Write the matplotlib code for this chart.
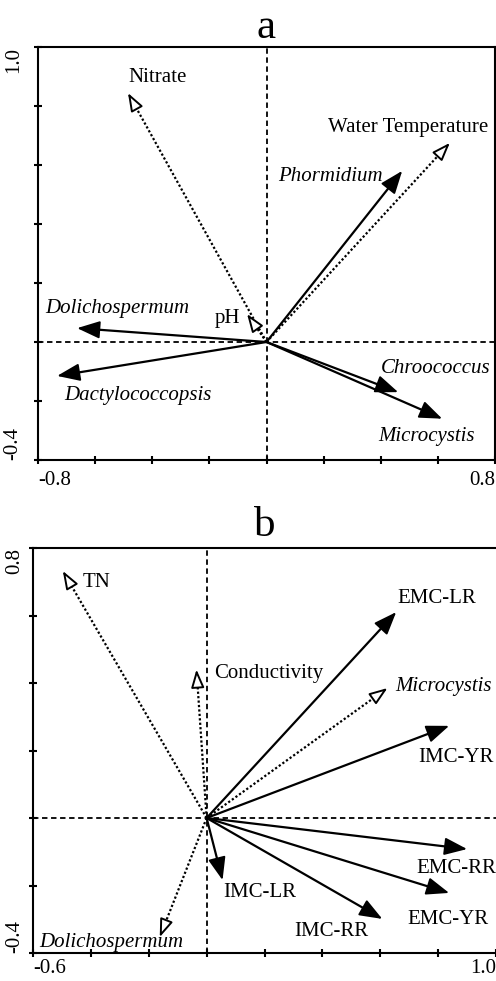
import numpy as np
import matplotlib
matplotlib.use('Agg')
import matplotlib.pyplot as plt

plt.rcParams['font.family'] = ['Liberation Serif', 'DejaVu Serif']

# Panel a: environmental vectors (dotted, hollow heads) and taxa (solid)
a_env_names = ['Nitrate', 'Water Temperature', 'pH']
a_env_x = [-0.485, 0.642, -0.068]
a_env_y = [0.844, 0.675, 0.095]
a_sp_names = ['Phormidium', 'Dolichospermum', 'Dactylococcopsis', 'Chroococcus', 'Microcystis']
a_sp_x = [0.475, -0.663, -0.733, 0.461, 0.615]
a_sp_y = [0.580, 0.047, -0.115, -0.170, -0.260]

# Panel b
b_env_names = ['TN', 'Conductivity', 'Microcystis', 'Dolichospermum']
b_env_x = [-0.497, -0.035, 0.625, -0.162]
b_env_y = [0.732, 0.440, 0.385, -0.353]
b_sp_names = ['EMC-LR', 'IMC-YR', 'IMC-LR', 'EMC-RR', 'EMC-YR', 'IMC-RR']
b_sp_x = [0.655, 0.838, 0.055, 0.900, 0.838, 0.607]
b_sp_y = [0.610, 0.273, -0.184, -0.092, -0.222, -0.299]

italic_names = {'Phormidium', 'Dolichospermum', 'Dactylococcopsis', 'Chroococcus', 'Microcystis'}

# label offsets (points) from arrow tips
a_env_off = [(21, 11), (-30, 11), (-14, -3)]
a_sp_off = [(-52, -4), (29, 14), (58, -14), (27, 17), (-11, -13)]
b_env_off = [(24, -8), (52, -3), (40, 1), (-35, -4)]
b_sp_off = [(29, 10), (5, -23), (27, -9), (-8, -14), (-1, -19), (-37, -9)]

fig = plt.figure(figsize=(4.96, 9.81), dpi=100)
ax_a = fig.add_axes([38 / 496, 521 / 981, 457 / 496, 413 / 981])
ax_b = fig.add_axes([33 / 496, 28 / 981, 463 / 496, 405 / 981])


def draw_vec(ax, x, y, hollow):
    if hollow:
        hl, hw, ls, fc = 0.55, 0.2, (0, (1, 1)), 'white'
    else:
        hl, hw, ls, fc = 0.7, 0.27, '-', 'black'
    p0 = ax.transData.transform((0, 0))
    p1 = ax.transData.transform((x, y))
    d = p1 - p0
    L = np.hypot(*d)
    hl_px = hl * 20 * fig.dpi / 72
    pb = p1 - d / L * hl_px * 0.85
    xb, yb = ax.transData.inverted().transform(pb)
    ax.plot([0, xb], [0, yb], color='black', lw=1.6, ls=ls, zorder=3,
            solid_capstyle='butt', dash_capstyle='butt')
    ax.annotate('', xy=(x, y), xytext=(xb, yb), zorder=4,
                arrowprops=dict(arrowstyle=f'-|>,head_length={hl},head_width={hw}',
                                mutation_scale=20, shrinkA=0, shrinkB=0,
                                lw=1.4, fc=fc, ec='black'))


def setup(ax, xlim, ylim, title, ypad, xpad, xticks, yticks, tpad):
    ax.set_xlim(*xlim)
    ax.set_ylim(*ylim)
    ax.axhline(0, color='black', lw=1.3, ls=(0, (3, 2)), zorder=1)
    ax.axvline(0, color='black', lw=1.3, ls=(0, (3, 2)), zorder=1)
    for s in ax.spines.values():
        s.set_linewidth(1.5)
    ax.set_xticks(xticks)
    ax.set_xticklabels([f'{xticks[0]:.1f}'] + [''] * (len(xticks) - 2) + [f'{xticks[-1]:.1f}'])
    ax.set_yticks(yticks)
    ax.set_yticklabels([f'{yticks[0]:.1f}'] + [''] * (len(yticks) - 2) + [f'{yticks[-1]:.1f}'])
    ax.tick_params(direction='inout', length=6, width=1.5, labelsize=15, colors='black')
    ax.tick_params(axis='y', pad=ypad)
    ax.tick_params(axis='x', pad=xpad)
    xl = ax.get_xticklabels()
    xl[0].set_ha('left')
    xl[-1].set_ha('right')
    yl = ax.get_yticklabels()
    for t in yl:
        t.set_rotation(90)
    yl[0].set_va('bottom')
    yl[-1].set_va('top')
    ax.set_title(title, fontsize=31, pad=tpad)


def label(ax, name, x, y, off):
    ax.annotate(name, xy=(x, y), xytext=off, textcoords='offset points',
                ha='center', va='center', fontsize=15,
                style='italic' if name in italic_names else 'normal', zorder=5)


setup(ax_a, (-0.8, 0.8), (-0.4, 1.0), 'a', 8, 5,
      [round(v, 1) for v in np.arange(-0.8, 0.81, 0.2)],
      [round(v, 1) for v in np.arange(-0.4, 1.01, 0.2)], 5)
setup(ax_b, (-0.6, 1.0), (-0.4, 0.8), 'b', 3, 1.5,
      [round(v, 1) for v in np.arange(-0.6, 1.01, 0.2)],
      [round(v, 1) for v in np.arange(-0.4, 0.81, 0.2)], 9)
ax_b.spines['right'].set_visible(False)

for names, xs, ys, offs, hollow, ax in [
        (a_env_names, a_env_x, a_env_y, a_env_off, True, ax_a),
        (a_sp_names, a_sp_x, a_sp_y, a_sp_off, False, ax_a),
        (b_env_names, b_env_x, b_env_y, b_env_off, True, ax_b),
        (b_sp_names, b_sp_x, b_sp_y, b_sp_off, False, ax_b)]:
    for n, x, y, o in zip(names, xs, ys, offs):
        draw_vec(ax, x, y, hollow)
        label(ax, n, x, y, o)

fig.savefig('out.png', dpi=100)
